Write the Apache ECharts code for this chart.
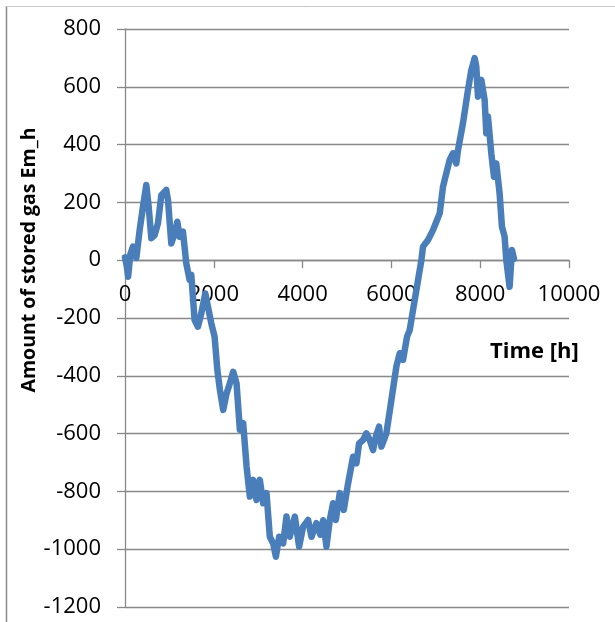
<!DOCTYPE html>
<html>
<head>
<meta charset="utf-8">
<script src="https://cdn.jsdelivr.net/npm/echarts@6/dist/echarts.min.js"></script>
<style>
html,body{margin:0;padding:0;background:#fff;}
#chart{width:615px;height:622px;}
</style>
</head>
<body>
<div id="chart"></div>
<script>
// Data
const hours = [0, 40, 70, 120, 180, 255, 330, 400, 480, 530, 593, 668, 743, 818, 930, 968, 1043, 1118, 1178, 1230, 1305, 1380, 1455, 1493, 1568, 1643, 1718, 1808, 1868, 1943, 2018, 2080, 2138, 2212, 2288, 2362, 2437, 2512, 2587, 2662, 2738, 2812, 2887, 2962, 3037, 3112, 3187, 3262, 3337, 3398, 3472, 3562, 3637, 3712, 3825, 3922, 4012, 4125, 4200, 4312, 4400, 4462, 4537, 4612, 4687, 4748, 4837, 4927, 5025, 5137, 5212, 5272, 5362, 5437, 5512, 5587, 5648, 5722, 5775, 5887, 6000, 6112, 6188, 6262, 6352, 6412, 6500, 6600, 6675, 6712, 6825, 6862, 6937, 7012, 7088, 7162, 7237, 7312, 7387, 7462, 7500, 7612, 7725, 7800, 7875, 7912, 7950, 8025, 8100, 8138, 8175, 8250, 8310, 8362, 8437, 8490, 8550, 8588, 8662, 8715, 8760];
const storedGas = [10, -20, -57, 20, 47, 8, 104, 180, 260, 190, 76, 87, 128, 225, 243, 208, 58, 93, 133, 81, 99, -11, -68, -51, -207, -230, -184, -115, -161, -218, -265, -380, -449, -518, -461, -426, -386, -426, -587, -564, -714, -818, -760, -830, -760, -841, -806, -957, -980, -1026, -957, -980, -887, -957, -887, -991, -922, -899, -957, -910, -950, -900, -991, -899, -841, -899, -806, -864, -772, -680, -703, -634, -622, -599, -622, -657, -611, -576, -645, -599, -484, -368, -322, -345, -265, -242, -160, -69, 0, 47, 70, 81, 104, 133, 162, 254, 301, 347, 370, 335, 381, 474, 589, 658, 699, 670, 566, 624, 554, 439, 497, 370, 289, 335, 231, 116, 81, 0, -92, 35, 5];
const xTicks = {min: 0, max: 10000, step: 2000};
const yTicks = {min: -1200, max: 800, step: 200};
const xName = 'Time [h]';
const yName = 'Amount of stored gas Em_h';

const gray = '#898989';
const labelFont = {fontFamily: 'Open Sans', fontSize: 22, color: '#000'};
const gridBox = {left: 125, right: 46, top: 29, bottom: 15};
const plotH = 622 - gridBox.top - gridBox.bottom;
// place the x axis where y = 0 (axis crosses at zero, as in the reference)
const xAxisOffset = -((0 - yTicks.min) / (yTicks.max - yTicks.min)) * plotH;

const chart = echarts.init(document.getElementById('chart'));
chart.setOption({
  animation: false,
  backgroundColor: '#fff',
  grid: Object.assign({containLabel: false}, gridBox),
  xAxis: {
    type: 'value',
    position: 'bottom',
    offset: xAxisOffset,
    min: xTicks.min, max: xTicks.max, interval: xTicks.step,
    axisLine: {show: true, onZero: false, lineStyle: {color: gray, width: 1.3}},
    axisTick: {show: true, inside: false, length: 8, lineStyle: {color: gray, width: 1.3}},
    splitLine: {show: false},
    axisLabel: Object.assign({margin: 24, formatter: v => String(v)}, labelFont)
  },
  yAxis: {
    type: 'value',
    min: yTicks.min, max: yTicks.max, interval: yTicks.step,
    axisLine: {show: true, onZero: false, lineStyle: {color: gray, width: 1.3}},
    axisTick: {show: true, inside: false, length: 8, lineStyle: {color: gray, width: 1.3}},
    splitLine: {show: true, lineStyle: {color: gray, width: 1.3}},
    axisLabel: Object.assign({margin: 24, formatter: v => String(v)}, labelFont)
  },
  graphic: [
    {type: 'line', shape: {x1: 6.5, y1: 6, x2: 6.5, y2: 622}, style: {stroke: '#8a8a8a', lineWidth: 1.5}},
    {type: 'line', shape: {x1: 6, y1: 6.5, x2: 615, y2: 6.5}, style: {stroke: '#c8c8c8', lineWidth: 1}},
    {type: 'text', left: 490, top: 341, style: {text: xName, font: 'bold 22px "Open Sans"', fill: '#000'}},
    {type: 'text', x: 29, y: 260, rotation: Math.PI / 2, style: {text: yName, font: 'bold 19.5px "Open Sans"', fill: '#000', textAlign: 'center', textVerticalAlign: 'middle'}}
  ],
  series: [{
    type: 'line',
    data: hours.map((h, i) => [h, storedGas[i]]),
    showSymbol: false,
    smooth: false,
    lineStyle: {color: '#4a7ebb', width: 6.5, cap: 'round', join: 'round'}
  }]
});
</script>
</body>
</html>
